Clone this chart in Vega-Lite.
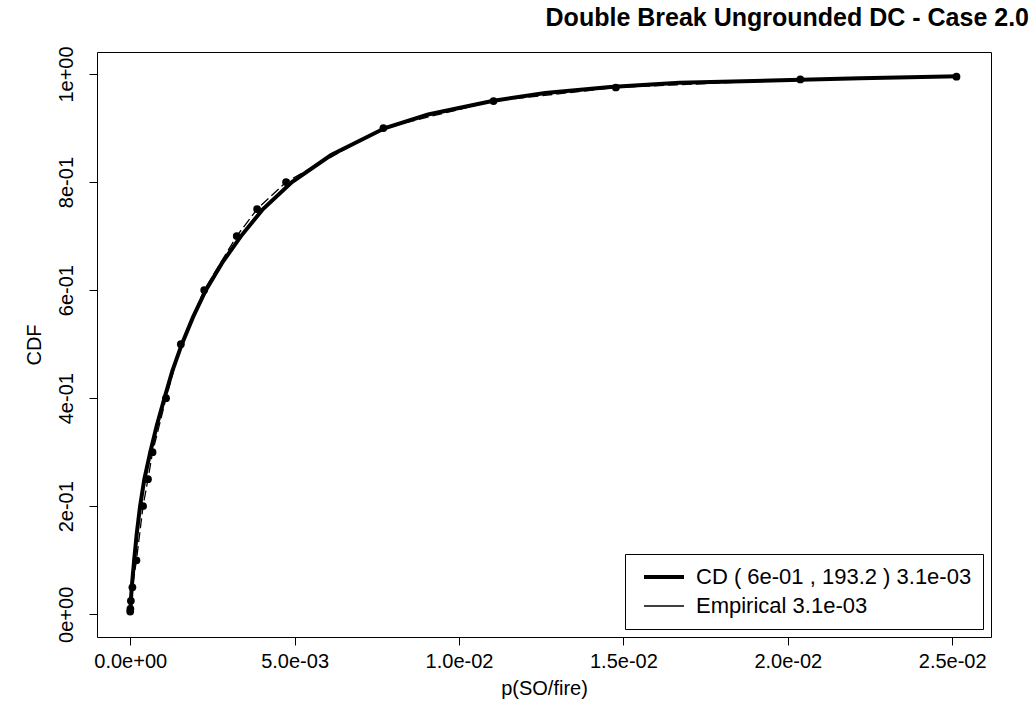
{
  "$schema": "https://vega.github.io/schema/vega-lite/v6.json",
  "width": 894,
  "height": 585,
  "autosize": {"type": "none"},
  "padding": {"left": 97, "top": 52, "right": 45, "bottom": 76},
  "background": "white",
  "title": {
    "text": "Double Break Ungrounded DC - Case 2.0",
    "anchor": "end",
    "frame": "group",
    "dx": 38,
    "dy": 30,
    "offset": 20,
    "baseline": "bottom",
    "font": "Liberation Sans",
    "fontSize": 25,
    "fontWeight": "bold",
    "color": "black"
  },
  "datasets": {
    "cd": [
      {"p": 0, "cdf": 0, "series": "CD ( 6e-01 , 193.2 ) 3.1e-03"},
      {"p": 0.000015, "cdf": 0.02, "series": "CD ( 6e-01 , 193.2 ) 3.1e-03"},
      {"p": 0.000046, "cdf": 0.05, "series": "CD ( 6e-01 , 193.2 ) 3.1e-03"},
      {"p": 0.00012, "cdf": 0.1, "series": "CD ( 6e-01 , 193.2 ) 3.1e-03"},
      {"p": 0.0002, "cdf": 0.15, "series": "CD ( 6e-01 , 193.2 ) 3.1e-03"},
      {"p": 0.0003, "cdf": 0.2, "series": "CD ( 6e-01 , 193.2 ) 3.1e-03"},
      {"p": 0.00043, "cdf": 0.25, "series": "CD ( 6e-01 , 193.2 ) 3.1e-03"},
      {"p": 0.00061, "cdf": 0.3, "series": "CD ( 6e-01 , 193.2 ) 3.1e-03"},
      {"p": 0.00081, "cdf": 0.35, "series": "CD ( 6e-01 , 193.2 ) 3.1e-03"},
      {"p": 0.00104, "cdf": 0.4, "series": "CD ( 6e-01 , 193.2 ) 3.1e-03"},
      {"p": 0.00128, "cdf": 0.45, "series": "CD ( 6e-01 , 193.2 ) 3.1e-03"},
      {"p": 0.00157, "cdf": 0.5, "series": "CD ( 6e-01 , 193.2 ) 3.1e-03"},
      {"p": 0.00191, "cdf": 0.55, "series": "CD ( 6e-01 , 193.2 ) 3.1e-03"},
      {"p": 0.0023, "cdf": 0.6, "series": "CD ( 6e-01 , 193.2 ) 3.1e-03"},
      {"p": 0.00279, "cdf": 0.65, "series": "CD ( 6e-01 , 193.2 ) 3.1e-03"},
      {"p": 0.00337, "cdf": 0.7, "series": "CD ( 6e-01 , 193.2 ) 3.1e-03"},
      {"p": 0.00404, "cdf": 0.75, "series": "CD ( 6e-01 , 193.2 ) 3.1e-03"},
      {"p": 0.00492, "cdf": 0.8, "series": "CD ( 6e-01 , 193.2 ) 3.1e-03"},
      {"p": 0.00611, "cdf": 0.85, "series": "CD ( 6e-01 , 193.2 ) 3.1e-03"},
      {"p": 0.00775, "cdf": 0.9, "series": "CD ( 6e-01 , 193.2 ) 3.1e-03"},
      {"p": 0.00906, "cdf": 0.925, "series": "CD ( 6e-01 , 193.2 ) 3.1e-03"},
      {"p": 0.01101, "cdf": 0.95, "series": "CD ( 6e-01 , 193.2 ) 3.1e-03"},
      {"p": 0.01262, "cdf": 0.965, "series": "CD ( 6e-01 , 193.2 ) 3.1e-03"},
      {"p": 0.0146, "cdf": 0.976, "series": "CD ( 6e-01 , 193.2 ) 3.1e-03"},
      {"p": 0.0167, "cdf": 0.984, "series": "CD ( 6e-01 , 193.2 ) 3.1e-03"},
      {"p": 0.0195, "cdf": 0.988, "series": "CD ( 6e-01 , 193.2 ) 3.1e-03"},
      {"p": 0.0222, "cdf": 0.992, "series": "CD ( 6e-01 , 193.2 ) 3.1e-03"},
      {"p": 0.0252, "cdf": 0.996, "series": "CD ( 6e-01 , 193.2 ) 3.1e-03"}
    ],
    "emp": [
      {"p": 0.0, "cdf": 0.005, "series": "Empirical 3.1e-03"},
      {"p": 0.000005, "cdf": 0.01, "series": "Empirical 3.1e-03"},
      {"p": 0.00002, "cdf": 0.025, "series": "Empirical 3.1e-03"},
      {"p": 0.000067, "cdf": 0.05, "series": "Empirical 3.1e-03"},
      {"p": 0.00019, "cdf": 0.1, "series": "Empirical 3.1e-03"},
      {"p": 0.00039, "cdf": 0.2, "series": "Empirical 3.1e-03"},
      {"p": 0.00054, "cdf": 0.25, "series": "Empirical 3.1e-03"},
      {"p": 0.00068, "cdf": 0.3, "series": "Empirical 3.1e-03"},
      {"p": 0.00109, "cdf": 0.4, "series": "Empirical 3.1e-03"},
      {"p": 0.00154, "cdf": 0.5, "series": "Empirical 3.1e-03"},
      {"p": 0.00225, "cdf": 0.6, "series": "Empirical 3.1e-03"},
      {"p": 0.00324, "cdf": 0.7, "series": "Empirical 3.1e-03"},
      {"p": 0.00386, "cdf": 0.75, "series": "Empirical 3.1e-03"},
      {"p": 0.00474, "cdf": 0.8, "series": "Empirical 3.1e-03"},
      {"p": 0.0077, "cdf": 0.9, "series": "Empirical 3.1e-03"},
      {"p": 0.01105, "cdf": 0.95, "series": "Empirical 3.1e-03"},
      {"p": 0.01477, "cdf": 0.975, "series": "Empirical 3.1e-03"},
      {"p": 0.02038, "cdf": 0.99, "series": "Empirical 3.1e-03"},
      {"p": 0.02513, "cdf": 0.995, "series": "Empirical 3.1e-03"}
    ]
  },
  "encoding": {
    "x": {
      "field": "p",
      "type": "quantitative",
      "scale": {"domain": [-0.00101, 0.02618], "nice": false, "zero": false},
      "axis": {
        "values": [0, 0.005, 0.01, 0.015, 0.02, 0.025],
        "labelExpr": "['0.0e+00','5.0e-03','1.0e-02','1.5e-02','2.0e-02','2.5e-02'][round(datum.value*200)]",
        "title": "p(SO/fire)",
        "labelPadding": 6,
        "titlePadding": 7
      }
    },
    "y": {
      "field": "cdf",
      "type": "quantitative",
      "scale": {"domain": [-0.042, 1.0407], "nice": false, "zero": false},
      "axis": {
        "values": [0, 0.2, 0.4, 0.6, 0.8, 1],
        "labelExpr": "['0e+00','2e-01','4e-01','6e-01','8e-01','1e+00'][round(datum.value*5)]",
        "title": "CDF",
        "labelAngle": 270,
        "labelAlign": "center",
        "labelBaseline": "bottom",
        "labelPadding": 13,
        "titlePadding": 12
      }
    }
  },
  "layer": [
    {
      "data": {"name": "cd"},
      "mark": {"type": "line", "color": "black"},
      "encoding": {
        "strokeWidth": {
          "field": "series",
          "type": "nominal",
          "scale": {
            "type": "point",
            "padding": 0,
            "domain": ["CD ( 6e-01 , 193.2 ) 3.1e-03", "Empirical 3.1e-03"],
            "range": [4, 1.3]
          },
          "legend": {
            "title": null,
            "orient": "bottom-right",
            "offset": 8,
            "symbolType": "stroke",
            "symbolSize": 1600,
            "symbolStrokeColor": "black",
            "symbolDash": [1, 0],
            "symbolOffset": 6,
            "clipHeight": 24,
            "strokeColor": "black",
            "fillColor": "white",
            "padding": 11,
            "rowPadding": 5,
            "labelFont": "Liberation Sans",
            "labelFontSize": 22,
            "labelColor": "black",
            "labelOffset": 10,
            "labelLimit": 400
          }
        }
      }
    },
    {
      "data": {"name": "emp"},
      "mark": {"type": "line", "color": "black", "strokeDash": [10, 4]},
      "encoding": {
        "strokeWidth": {
          "field": "series",
          "type": "nominal",
          "scale": {
            "type": "point",
            "padding": 0,
            "domain": ["CD ( 6e-01 , 193.2 ) 3.1e-03", "Empirical 3.1e-03"],
            "range": [4, 1.3]
          }
        }
      }
    },
    {
      "data": {"name": "emp"},
      "mark": {"type": "point", "filled": true, "color": "black", "size": 60, "opacity": 1}
    }
  ],
  "config": {
    "view": {"stroke": "black", "strokeWidth": 1},
    "axis": {
      "domain": false,
      "grid": false,
      "ticks": true,
      "tickColor": "black",
      "tickSize": 8,
      "tickWidth": 1,
      "labelFont": "Liberation Sans",
      "labelFontSize": 20,
      "labelColor": "black",
      "titleFont": "Liberation Sans",
      "titleFontSize": 20,
      "titleFontWeight": "normal",
      "titleColor": "black"
    }
  }
}
